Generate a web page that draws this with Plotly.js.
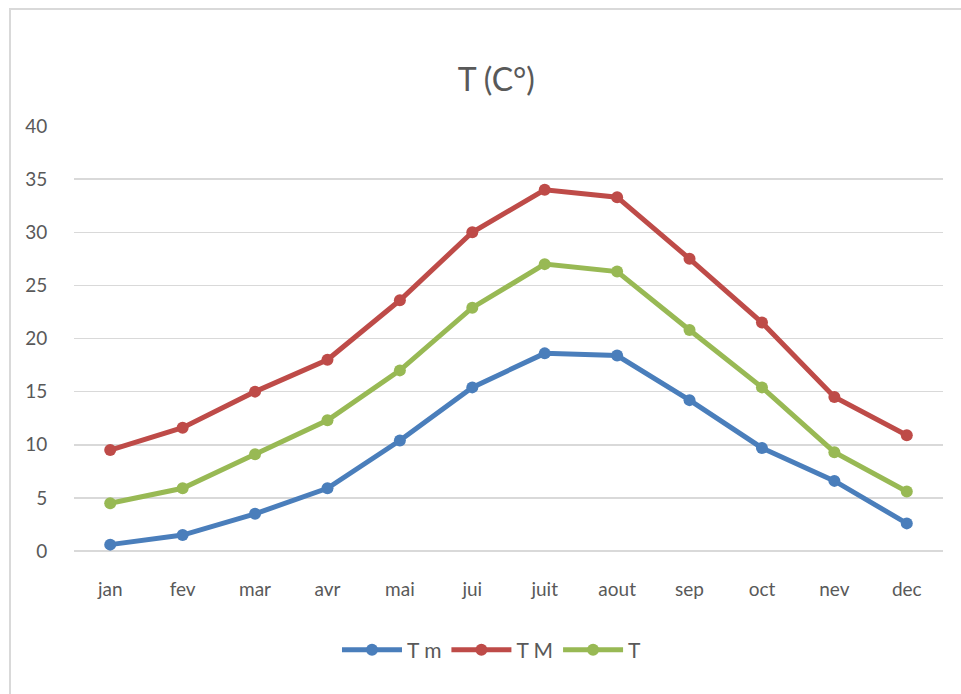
<!DOCTYPE html>
<html>
<head>
<meta charset="utf-8">
<script src="https://cdn.plot.ly/plotly-3.0.1.min.js"></script>
<style>
  html, body { margin: 0; padding: 0; background: #fff; }
  #wrap { position: relative; width: 961px; height: 694px; }
  #chart { position: absolute; left: 0; top: 0; width: 961px; height: 694px; }
  #frame { position: absolute; left: 9px; top: 8px; width: 960px; height: 700px;
           border-top: 2px solid #d9d9d9; border-left: 2px solid #d9d9d9; pointer-events: none; }
</style>
</head>
<body>
<div id="wrap"><div id="chart"></div><div id="frame"></div></div>
<script>
const months = ['jan','fev','mar','avr','mai','jui','juit','aout','sep','oct','nev','dec'];
const Tm = [0.6, 1.5, 3.5, 5.9, 10.4, 15.4, 18.6, 18.4, 14.2, 9.7, 6.6, 2.6];
const TM = [9.5, 11.6, 15.0, 18.0, 23.6, 30.0, 34.0, 33.3, 27.5, 21.5, 14.5, 10.9];
const T  = [4.5, 5.9, 9.1, 12.3, 17.0, 22.9, 27.0, 26.3, 20.8, 15.4, 9.3, 5.6];
const yTicks = [0, 5, 10, 15, 20, 25, 30, 35, 40];

const names = ['T m', 'T M', 'T'];
const colors = ['#4a7ebb', '#be4b48', '#98b954'];
const series = [Tm, TM, T];

const traces = series.map((s, i) => ({
  x: months, y: s, name: names[i], type: 'scatter', mode: 'lines+markers',
  line: {color: colors[i], width: 5},
  marker: {color: colors[i], size: 12, symbol: 'circle'}
}));

const fam = 'Lato, "Open Sans", sans-serif';
const font = {family: fam, color: '#595959', size: 19};

const layout = {
  width: 961, height: 694,
  margin: {l: 74, r: 18, t: 126, b: 143},
  paper_bgcolor: '#fff', plot_bgcolor: '#fff',
  font: font,
  showlegend: true,
  title: {text: 'T (C°)', font: {family: fam, size: 32, color: '#595959'},
          x: 0.486, xref: 'paper', xanchor: 'center', y: 1 - 80/694, yref: 'container', yanchor: 'middle'},
  xaxis: {type: 'category', categoryarray: months, range: [-0.5, 11.5], showgrid: false, zeroline: false,
          showline: false, ticks: 'outside', ticklen: 21, tickcolor: 'rgba(0,0,0,0)',
          tickfont: font, fixedrange: true},
  yaxis: {range: [0, 40], tickvals: yTicks, ticktext: yTicks.map(String),
          showgrid: true, gridcolor: '#d9d9d9', gridwidth: 1.5, zeroline: true, zerolinecolor: '#d9d9d9', zerolinewidth: 1.5,
          showline: false, ticks: 'outside', ticklen: 22, tickcolor: 'rgba(0,0,0,0)',
          tickfont: font, fixedrange: true},
  legend: {orientation: 'h', x: 0.481, xref: 'paper', xanchor: 'center',
           y: 1 - 650/694, yref: 'container', yanchor: 'middle',
           font: {family: fam, size: 21, color: '#595959'}, itemwidth: 60, traceorder: 'normal'}
};

Plotly.newPlot('chart', traces, layout, {displayModeBar: false, staticPlot: true});
</script>
</body>
</html>
